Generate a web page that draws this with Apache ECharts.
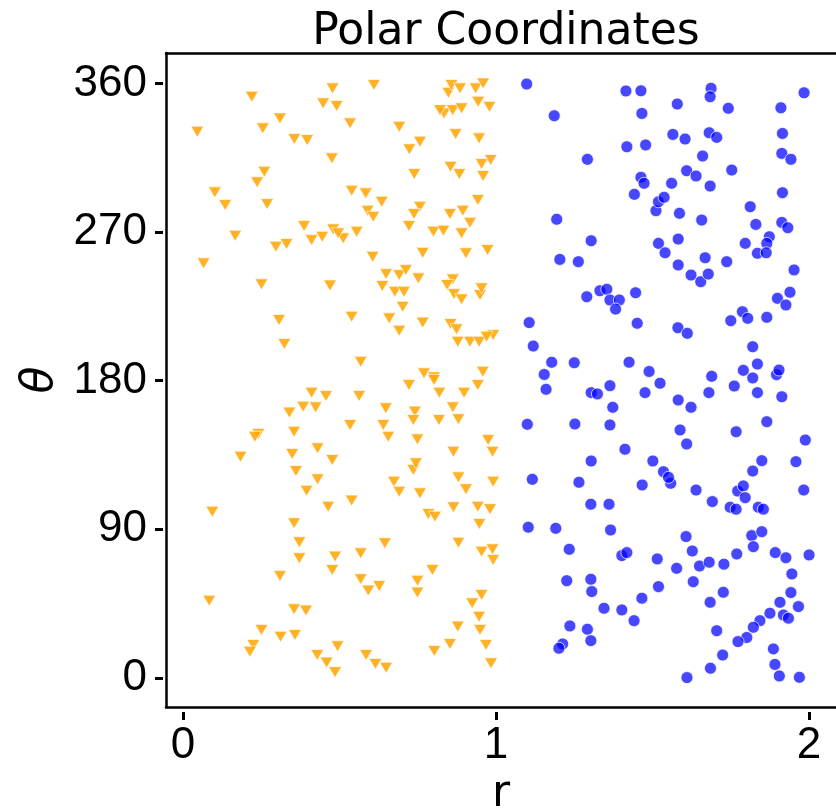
<!DOCTYPE html>
<html>
<head>
<meta charset="utf-8">
<script src="https://cdn.jsdelivr.net/npm/echarts@6/dist/echarts.min.js"></script>
<style>html,body{margin:0;padding:0;background:#fff;}#c{width:836px;height:811px;}</style>
</head>
<body>
<div id="c"></div>
<script>
const titleText = 'Polar Coordinates';
const xName = 'r';
const yName = 'θ';
const xTicks = [0, 1, 2];
const yTicks = [0, 90, 180, 270, 360];

const orangeR = [0.478,0.220,0.448,0.491,0.310,0.046,0.255,0.356,0.397,0.476,0.260,0.237,0.102,0.135,0.269,0.387,0.167,0.297,0.331,0.411,0.445,0.480,0.066,0.251,0.470,0.307,0.324,
0.610,0.848,0.858,0.885,0.935,0.959,0.834,0.821,0.862,0.890,0.943,0.979,0.534,0.691,0.871,0.946,0.757,0.723,0.855,0.883,0.954,0.983,0.959,0.739,0.539,0.584,0.635,0.590,0.608,0.757,0.738,0.942,0.894,0.853,0.917,0.722,0.512,0.555,0.800,0.832,0.890,0.606,0.766,0.904,0.973,0.649,0.691,0.712,0.752,0.637,0.677,0.706,0.702,0.862,0.844,0.866,0.890,0.949,0.954,0.539,0.659,0.691,0.766,0.855,0.874,0.878,0.917,0.946,0.991,0.970,0.568,0.770,0.802,0.958,
0.411,0.457,0.384,0.424,0.340,0.241,0.230,0.355,0.184,0.349,0.430,0.477,0.361,0.430,0.395,0.094,0.464,0.355,0.372,0.372,0.486,0.477,0.310,0.084,0.355,0.393,0.251,0.225,0.214,0.312,0.358,0.429,0.459,0.486,0.494,
0.722,0.802,0.819,0.563,0.898,0.942,0.648,0.534,0.640,0.656,0.741,0.736,0.818,0.862,0.880,0.749,0.975,0.989,0.864,0.736,0.744,0.674,0.691,0.757,0.880,0.904,0.991,0.539,0.784,0.805,0.864,0.942,0.981,0.947,0.645,0.880,0.954,0.989,0.991,0.568,0.797,0.568,0.592,0.627,0.749,0.749,0.954,0.924,0.946,0.949,0.878,0.853,0.803,0.968,0.984,0.585,0.615,0.649,0.496];
const orangeTheta = [357.1,352.0,348.0,346.4,338.9,330.8,332.9,326.4,325.8,314.7,306.6,300.2,294.1,286.4,287.0,273.7,267.8,261.2,262.8,265.2,267.2,271.7,251.1,238.4,237.7,216.8,202.3,
359.1,354.4,359.1,357.1,357.1,360.1,341.9,343.9,343.9,345.0,349.0,345.9,335.9,333.8,329.4,326.8,324.8,320.2,309.6,305.2,311.3,313.7,304.0,305.2,295.1,293.5,288.4,283.0,279.3,285.4,281.0,289.5,283.0,281.0,275.7,273.7,266.3,270.3,270.3,270.9,269.3,255.1,257.5,257.2,259.2,244.6,244.0,247.1,242.0,237.4,233.9,233.9,224.8,241.4,238.0,232.5,229.3,231.9,236.0,218.8,217.8,210.3,215.2,214.4,211.2,203.6,203.6,203.6,207.7,206.7,191.5,184.5,182.1,185.5,
172.8,170.8,164.3,163.9,160.7,147.8,146.1,149.1,134.0,135.6,139.1,132.0,125.3,120.3,113.4,100.7,103.7,93.7,82.2,72.5,73.5,65.4,61.8,46.8,41.6,40.8,29.1,20.0,15.9,25.0,26.0,13.9,9.3,3.5,19.2,
177.4,180.5,172.8,170.8,172.8,177.4,163.3,153.2,153.2,146.1,161.3,156.2,156.2,163.9,156.7,144.5,144.1,137.0,137.0,126.0,130.0,118.9,112.8,111.8,121.5,114.3,118.9,107.4,99.3,97.7,103.4,103.7,102.2,93.3,81.6,81.9,76.5,77.9,71.5,75.5,65.4,59.8,52.9,55.7,58.9,51.7,50.3,45.2,37.1,29.1,31.1,20.6,16.3,20.0,8.9,13.9,8.5,6.2,269.3];

const blueR = [1.098,1.186,1.415,1.463,1.466,1.418,1.478,1.292,1.463,1.473,1.442,1.511,1.519,1.194,1.304,1.519,1.204,1.263,1.290,1.332,1.354,1.364,1.394,1.382,1.446,1.106,1.451,1.119,1.178,1.250,1.154,1.425,1.489,
1.687,1.684,1.579,1.742,1.984,1.910,1.565,1.604,1.681,1.705,1.915,1.660,1.913,1.942,1.609,1.639,1.753,1.561,1.684,1.915,1.537,1.586,1.657,1.812,1.830,1.913,1.932,1.873,1.582,1.540,1.796,1.865,1.835,1.863,1.668,1.737,1.582,1.623,1.654,1.678,1.952,1.899,1.939,1.926,1.787,1.804,1.750,1.865,1.581,1.611,1.820,1.835,1.790,1.689,1.896,1.904,1.820,1.524,
1.160,1.304,1.324,1.364,1.476,1.373,1.100,1.252,1.364,1.412,1.304,1.501,1.116,1.265,1.467,1.303,1.361,1.103,1.191,1.366,1.234,1.402,1.418,1.515,1.226,1.303,1.306,1.466,1.519,1.345,1.402,1.441,1.236,1.292,1.303,1.213,1.201,
1.835,1.761,1.680,1.582,1.623,1.913,1.588,1.609,1.767,1.865,1.988,1.535,1.558,1.551,1.639,1.691,1.748,1.767,1.772,1.790,1.796,1.820,1.849,1.838,1.854,1.958,1.983,1.607,1.627,1.817,1.849,1.822,1.577,1.650,1.681,1.728,1.769,1.892,1.926,2.000,1.945,1.630,1.726,1.684,1.942,1.907,1.966,1.875,1.918,1.934,1.843,1.822,1.705,1.801,1.773,1.886,1.724,1.891,1.685,1.610,1.905,1.969];
const blueTheta = [359.7,340.5,355.5,355.6,341.9,321.7,322.8,314.1,303.2,299.6,292.9,283.0,288.4,277.8,264.8,263.2,253.5,252.1,230.9,234.5,235.4,228.9,228.9,223.4,233.3,215.2,214.8,201.0,191.2,190.9,183.8,191.2,185.6,
357.1,352.0,347.6,345.0,354.4,345.3,329.2,326.4,330.2,327.4,329.8,316.1,317.7,314.1,307.2,304.0,307.6,299.6,297.9,293.9,291.1,281.4,277.3,285.4,274.7,275.9,272.7,267.2,265.8,257.5,263.2,263.2,257.2,257.5,254.5,252.1,250.1,244.0,240.0,244.6,247.1,229.9,233.6,225.9,221.8,217.8,216.4,218.4,212.1,208.7,200.6,190.1,186.3,182.7,183.7,186.5,181.7,178.5,
174.8,172.8,172.0,177.0,172.8,163.9,153.6,153.8,153.2,138.5,131.4,131.4,120.3,118.5,116.9,105.2,105.2,91.3,90.6,89.6,77.9,74.1,75.9,72.1,58.9,59.8,52.3,48.3,55.3,42.2,41.2,34.7,31.5,29.5,22.6,20.6,18.0,
172.8,176.8,172.8,168.3,163.9,170.3,150.2,141.7,149.1,155.2,144.1,124.9,117.9,121.5,113.8,106.8,103.4,102.2,113.2,116.3,109.2,125.3,131.6,103.4,102.2,131.0,113.8,85.6,76.9,86.2,88.6,79.5,66.4,67.8,70.1,68.9,75.1,75.9,72.8,74.5,63.0,58.3,51.9,45.8,51.7,45.8,43.2,39.2,38.1,36.2,34.7,30.7,28.6,24.5,22.0,17.6,13.9,8.2,5.9,0.2,1.2,0.4];

const xMin = -0.054, xMax = 2.086, yMin = -17.6, yMax = 378.5;

const orangeData = orangeR.map((r, i) => [r, orangeTheta[i]]);
const blueData = blueR.map((r, i) => [r, blueTheta[i]]);

const labelFont = 'Liberation Sans';
const nameFont = 'DejaVu Sans';

const chart = echarts.init(document.getElementById('c'), null, {renderer: 'canvas'});
chart.setOption({
  animation: false,
  backgroundColor: '#ffffff',
  title: {
    text: titleText,
    left: 501,
    textAlign: 'center',
    top: 6,
    textStyle: {fontFamily: nameFont, fontSize: 44, fontWeight: 'normal', color: '#000'}
  },
  grid: {left: 166, right: 0, top: 53, bottom: 104, containLabel: false, outerBoundsMode: 'none'},
  xAxis: [
    {type: 'value', min: xMin, max: xMax, position: 'bottom',
     axisLine: {show: true, onZero: false, lineStyle: {color: '#000', width: 2.5}},
     axisTick: {show: false}, axisLabel: {show: false}, splitLine: {show: false}},
    {type: 'value', min: xMin, max: xMax, position: 'bottom', offset: 5,
     axisLine: {show: false, onZero: false},
     axisTick: {show: true, length: 8, customValues: xTicks, lineStyle: {color: '#000', width: 3}},
     axisLabel: {show: true, customValues: xTicks, margin: 12, fontFamily: labelFont, fontSize: 44, color: '#000',
                 formatter: v => String(v)},
     splitLine: {show: false},
     name: xName, nameLocation: 'middle', nameGap: 60,
     nameTextStyle: {fontFamily: nameFont, fontSize: 44, color: '#000'}},
    {type: 'value', min: xMin, max: xMax, position: 'top',
     axisLine: {show: true, onZero: false, lineStyle: {color: '#000', width: 2.5}},
     axisTick: {show: false}, axisLabel: {show: false}, splitLine: {show: false}}
  ],
  yAxis: [
    {type: 'value', min: yMin, max: yMax, position: 'left',
     axisLine: {show: true, onZero: false, lineStyle: {color: '#000', width: 2.5}},
     axisTick: {show: false}, axisLabel: {show: false}, splitLine: {show: false}},
    {type: 'value', min: yMin, max: yMax, position: 'left', offset: 3,
     axisLine: {show: false, onZero: false},
     axisTick: {show: true, length: 8, customValues: yTicks, lineStyle: {color: '#000', width: 3}},
     axisLabel: {show: true, customValues: yTicks, margin: 16, fontFamily: labelFont, fontSize: 44, color: '#000',
                 formatter: v => String(v)},
     splitLine: {show: false},
     name: yName, nameLocation: 'middle', nameGap: 100,
     nameTextStyle: {fontFamily: nameFont, fontSize: 44, fontStyle: 'italic', color: '#000'}}
  ],
  series: [
    {type: 'scatter', name: 'inner', data: orangeData, xAxisIndex: 0, yAxisIndex: 0,
     symbol: 'triangle', symbolRotate: 180, symbolSize: [13, 11],
     itemStyle: {color: '#FFA500', opacity: 0.85, borderColor: '#ffffff', borderWidth: 0.8}},
    {type: 'scatter', name: 'outer', data: blueData, xAxisIndex: 0, yAxisIndex: 0,
     symbol: 'circle', symbolSize: 12,
     itemStyle: {color: '#0000FF', opacity: 0.72, borderColor: '#ffffff', borderWidth: 1}}
  ]
});
</script>
</body>
</html>
